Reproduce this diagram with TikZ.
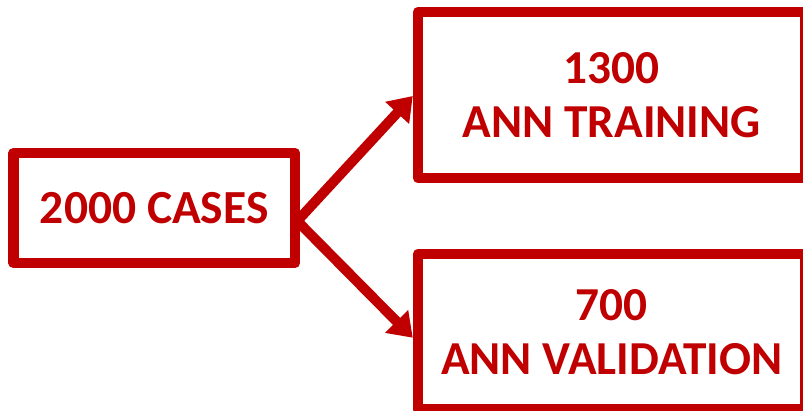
\documentclass[tikz,border=0pt]{standalone}
\usepackage{fontspec}
\setmainfont{Carlito}
\usetikzlibrary{arrows.meta,calc}
\definecolor{dred}{HTML}{C00000}
\begin{document}
\begin{tikzpicture}[x=1pt,y=-1pt,
  box/.style={draw=dred,line width=10.5pt,line join=round,fill=white,inner sep=0pt,
    text=dred,font=\bfseries\fontsize{47.3}{54}\selectfont,align=center},
  conn/.style={draw=dred,line width=10pt,-{Triangle[length=23pt,width=31pt]}}]
\useasboundingbox (0,0) rectangle (803,411);
\node[box,minimum width=281.5pt,minimum height=110pt,font=\bfseries\fontsize{47.5}{52}\selectfont] (cases) at (154.25,208) {2000 CASES};
\node[box,minimum width=387.5pt,minimum height=166pt] (train) at (611.75,95) {1300\\ANN TRAINING};
\node[box,minimum width=387.5pt,minimum height=155.5pt] (valid) at (611.75,331.75) {700\\ANN VALIDATION};
\coordinate (s) at ($(cases.east)+(-3,13)$);
\draw[conn] (s) -- ($(train.west)+(0,1)$);
\draw[conn] (s) -- ($(valid.west)+(0,6)$);
\end{tikzpicture}
\end{document}
